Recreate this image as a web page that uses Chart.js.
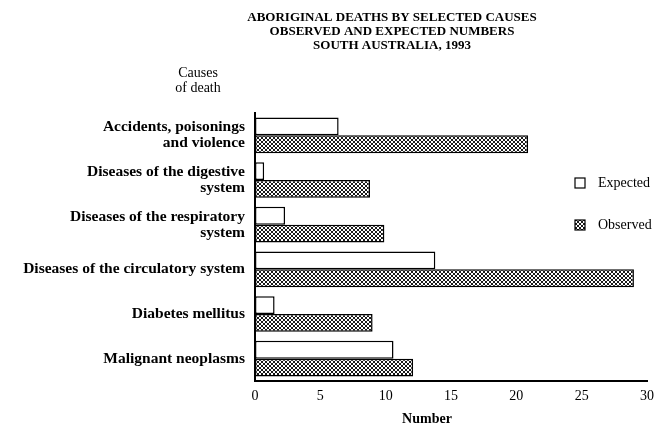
<!DOCTYPE html>
<html>
<head>
<meta charset="utf-8">
<script src="https://cdn.jsdelivr.net/npm/chart.js@4"></script>
<style>
    html, body { margin: 0; padding: 0; background: #fff; }
    #wrap { width: 668px; height: 431px; }
</style>
</head>
<body>
<div id="wrap"><canvas id="deathsChart" width="668" height="431"></canvas></div>
<script>
// Chart data
const causes = [
    ['Accidents, poisonings', 'and violence'],
    ['Diseases of the digestive', 'system'],
    ['Diseases of the respiratory', 'system'],
    'Diseases of the circulatory system',
    'Diabetes mellitus',
    'Malignant neoplasms'
];
const expected = [6.4, 0.7, 2.3, 13.8, 1.5, 10.6];
const observed = [20.9, 8.8, 9.9, 29.0, 9.0, 12.1];
const xTicks = [0, 5, 10, 15, 20, 25, 30];
const titleLines = [
    'ABORIGINAL DEATHS BY SELECTED CAUSES',
    'OBSERVED AND EXPECTED NUMBERS',
    'SOUTH AUSTRALIA, 1993'
];
const yAxisCaption = ['Causes', 'of death'];
const xAxisCaption = 'Number';

const FONT = "'Liberation Serif', 'DejaVu Serif', serif";

// Cross-hatched fill for the observed bars
function makeHatch() {
    const c = document.createElement('canvas');
    c.width = 4;
    c.height = 4;
    const g = c.getContext('2d');
    g.fillStyle = '#ffffff';
    g.fillRect(0, 0, 4, 4);
    g.fillStyle = '#1a1a1a';
    for (let i = 0; i < 4; i++) {
        g.fillRect(i, i, 1, 1);
        g.fillRect(3 - i, i, 1, 1);
    }
    return g.createPattern(c, 'repeat');
}

const hatch = makeHatch();

// Title, axis captions and legend drawn around the plot
const decorations = {
    id: 'decorations',
    afterDraw(chart) {
        const ctx = chart.ctx;
        ctx.save();
        ctx.fillStyle = '#000';
        ctx.textBaseline = 'middle';

        ctx.textAlign = 'center';
        ctx.font = 'bold 13px ' + FONT;
        titleLines.forEach((line, i) => {
            ctx.fillText(line, 392, 18 + i * 14);
        });

        ctx.font = '14px ' + FONT;
        yAxisCaption.forEach((line, i) => {
            ctx.fillText(line, 198, 73 + i * 15);
        });

        ctx.font = 'bold 14px ' + FONT;
        ctx.fillText(xAxisCaption, 427, 419);

        // legend
        ctx.textAlign = 'left';
        ctx.font = '14px ' + FONT;
        chart.data.datasets.forEach((ds, i) => {
            const y = 183 + i * 42;
            ctx.fillStyle = ds.backgroundColor;
            ctx.fillRect(575, y - 5, 10, 10);
            ctx.strokeStyle = '#000';
            ctx.lineWidth = 1.2;
            ctx.strokeRect(575, y - 5, 10, 10);
            ctx.fillStyle = '#000';
            ctx.fillText(ds.label, 598, y);
        });
        ctx.restore();
    }
};

const ctx = document.getElementById('deathsChart').getContext('2d');

const chart = new Chart(ctx, {
    type: 'bar',
    data: {
        labels: causes,
        datasets: [{
            label: 'Expected',
            data: expected,
            backgroundColor: '#ffffff',
            borderColor: '#000000',
            borderWidth: 1.5,
            borderSkipped: false
        }, {
            label: 'Observed',
            data: observed,
            backgroundColor: hatch,
            borderColor: '#000000',
            borderWidth: 1.5,
            borderSkipped: false
        }]
    },
    plugins: [decorations],
    options: {
        indexAxis: 'y',
        responsive: false,
        animation: false,
        datasets: {
            bar: {
                categoryPercentage: 0.8,
                barPercentage: 1.0
            }
        },
        layout: {
            padding: { top: 113, right: 21, left: 0, bottom: 0 }
        },
        scales: {
            x: {
                min: 0,
                max: 30,
                afterBuildTicks: scale => {
                    scale.ticks = xTicks.map(v => ({ value: v }));
                },
                afterFit: scale => { scale.height = 50; },
                grid: { display: false, drawTicks: false },
                border: { display: true, color: '#000', width: 2 },
                ticks: {
                    color: '#000',
                    font: { family: FONT, size: 14 },
                    padding: 7
                }
            },
            y: {
                afterFit: scale => { scale.width = 255; },
                grid: { display: false, drawTicks: false },
                border: { display: true, color: '#000', width: 2 },
                ticks: {
                    color: '#000',
                    font: { family: FONT, size: 15.5, weight: 'bold', lineHeight: 1.05 },
                    padding: 10
                }
            }
        },
        plugins: {
            legend: { display: false },
            title: { display: false },
            tooltip: { enabled: false }
        }
    }
});
</script>
</body>
</html>
